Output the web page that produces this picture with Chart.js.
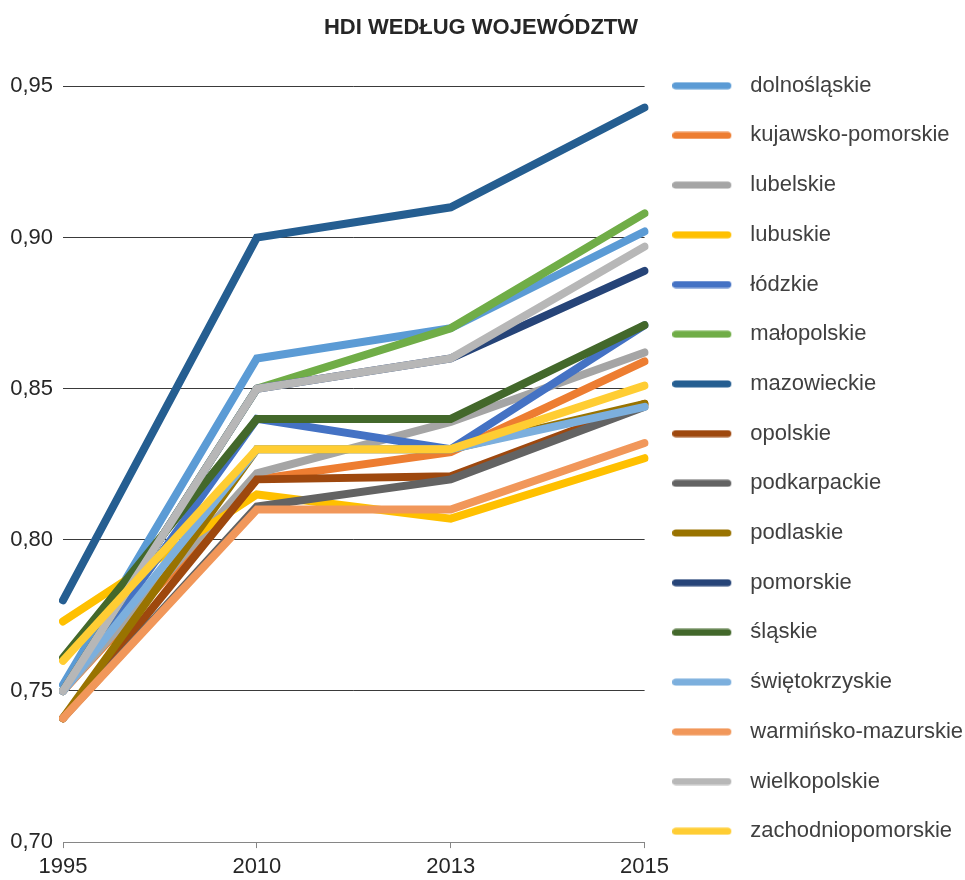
<!DOCTYPE html>
<html>
<head>
<meta charset="utf-8">
<title>HDI według województw</title>
<script src="https://cdn.jsdelivr.net/npm/chart.js@4"></script>
<style>
  body { margin: 0; background: #fff; }
  #wrap { width: 965px; height: 880px; }
</style>
</head>
<body>
<div id="wrap"><canvas id="hdiChart"></canvas></div>
<script>
// data
var years = ["1995", "2010", "2013", "2015"];

var dolnoslaskie       = [0.752, 0.860, 0.870, 0.902];
var kujawskoPomorskie  = [0.750, 0.820, 0.829, 0.859];
var lubelskie          = [0.750, 0.822, 0.839, 0.862];
var lubuskie           = [0.773, 0.815, 0.807, 0.827];
var lodzkie            = [0.750, 0.840, 0.830, 0.871];
var malopolskie        = [0.750, 0.850, 0.870, 0.908];
var mazowieckie        = [0.780, 0.900, 0.910, 0.943];
var opolskie           = [0.741, 0.820, 0.821, 0.845];
var podkarpackie       = [0.741, 0.811, 0.820, 0.844];
var podlaskie          = [0.741, 0.830, 0.830, 0.845];
var pomorskie          = [0.750, 0.850, 0.860, 0.889];
var slaskie            = [0.761, 0.840, 0.840, 0.871];
var swietokrzyskie     = [0.750, 0.830, 0.830, 0.844];
var warminskoMazurskie = [0.741, 0.810, 0.810, 0.832];
var wielkopolskie      = [0.750, 0.850, 0.860, 0.897];
var zachodniopomorskie = [0.760, 0.830, 0.830, 0.851];

var names = ["dolnośląskie", "kujawsko-pomorskie", "lubelskie", "lubuskie", "łódzkie",
  "małopolskie", "mazowieckie", "opolskie", "podkarpackie", "podlaskie", "pomorskie",
  "śląskie", "świętokrzyskie", "warmińsko-mazurskie", "wielkopolskie", "zachodniopomorskie"];

var values = [dolnoslaskie, kujawskoPomorskie, lubelskie, lubuskie, lodzkie,
  malopolskie, mazowieckie, opolskie, podkarpackie, podlaskie, pomorskie,
  slaskie, swietokrzyskie, warminskoMazurskie, wielkopolskie, zachodniopomorskie];

var colors = ["#5B9BD5", "#ED7D31", "#A5A5A5", "#FFC000", "#4472C4",
  "#70AD47", "#255E91", "#9E480E", "#636363", "#997300", "#264478",
  "#43682B", "#7CAFDD", "#F1975A", "#B7B7B7", "#FFCD33"];

var yTicks = [0.70, 0.75, 0.80, 0.85, 0.90, 0.95];

Chart.defaults.font.family = "'Liberation Sans', Arial, sans-serif";
Chart.defaults.color = "#404040";

// small rounded line used as the legend marker
function legendLine(color) {
  var c = document.createElement("canvas");
  c.width = 67;
  c.height = 8;
  var g = c.getContext("2d");
  g.strokeStyle = color;
  g.lineWidth = 7;
  g.lineCap = "round";
  g.beginPath();
  g.moveTo(3.5, 4);
  g.lineTo(55.5, 4);
  g.stroke();
  return c;
}

var datasets = [];
for (var i = 0; i < names.length; i++) {
  datasets.push({
    label: names[i],
    data: values[i],
    borderColor: colors[i],
    backgroundColor: colors[i],
    borderWidth: 8,
    borderCapStyle: "round",
    pointRadius: 0,
    tension: 0,
    fill: false,
    order: names.length - i   // later series on top, like the original
  });
}

var ctx = document.getElementById("hdiChart");

var hdiChart = new Chart(ctx, {
  type: "line",
  data: {
    labels: years,
    datasets: datasets
  },
  options: {
    responsive: true,
    maintainAspectRatio: false,
    animation: false,
    layout: {
      padding: { left: -11, right: -8, top: 0, bottom: -6.5 }
    },
    plugins: {
      title: {
        display: true,
        text: "HDI WEDŁUG WOJEWÓDZTW",
        color: "#262626",
        font: { size: 22, weight: "bold" },
        padding: { top: 15, bottom: 45 }
      },
      legend: {
        position: "right",
        align: "start",
        fullSize: true,
        maxWidth: 400,
        title: {
          display: true,
          text: "",
          padding: 0,
          font: { size: 10, lineHeight: "47px" }
        },
        labels: {
          font: { size: 22 },
          color: "#404040",
          padding: 27.7,
          usePointStyle: true,
          pointStyleWidth: 67,
          boxHeight: 8,
          sort: function(a, b) { return a.datasetIndex - b.datasetIndex; },
          generateLabels: function(chart) {
            var items = Chart.defaults.plugins.legend.labels.generateLabels(chart);
            items.forEach(function(item) {
              item.pointStyle = legendLine(colors[item.datasetIndex]);
            });
            return items;
          }
        }
      },
      tooltip: { enabled: false }
    },
    scales: {
      x: {
        grid: {
          drawOnChartArea: false,
          drawTicks: true,
          tickLength: 6,
          color: "#868686"
        },
        border: { display: true, color: "#868686", width: 1 },
        ticks: {
          font: { size: 22 },
          color: "#262626",
          padding: 6,
          maxRotation: 0
        }
      },
      y: {
        min: 0.70,
        max: 0.95,
        afterFit: function(scale) { scale.width = 74; },
        afterBuildTicks: function(scale) {
          scale.ticks = yTicks.map(function(v) { return { value: v }; });
        },
        grid: {
          drawTicks: false,
          color: function(c) {
            return c.tick && Math.abs(c.tick.value - 0.70) < 1e-6 ? "#868686" : "#3a3a3a";
          },
          lineWidth: 1
        },
        border: { display: false },
        ticks: {
          font: { size: 22 },
          color: "#262626",
          padding: 10,
          callback: function(value) {
            return Number(value).toFixed(2).replace(".", ",");
          }
        }
      }
    }
  }
});
</script>
</body>
</html>
